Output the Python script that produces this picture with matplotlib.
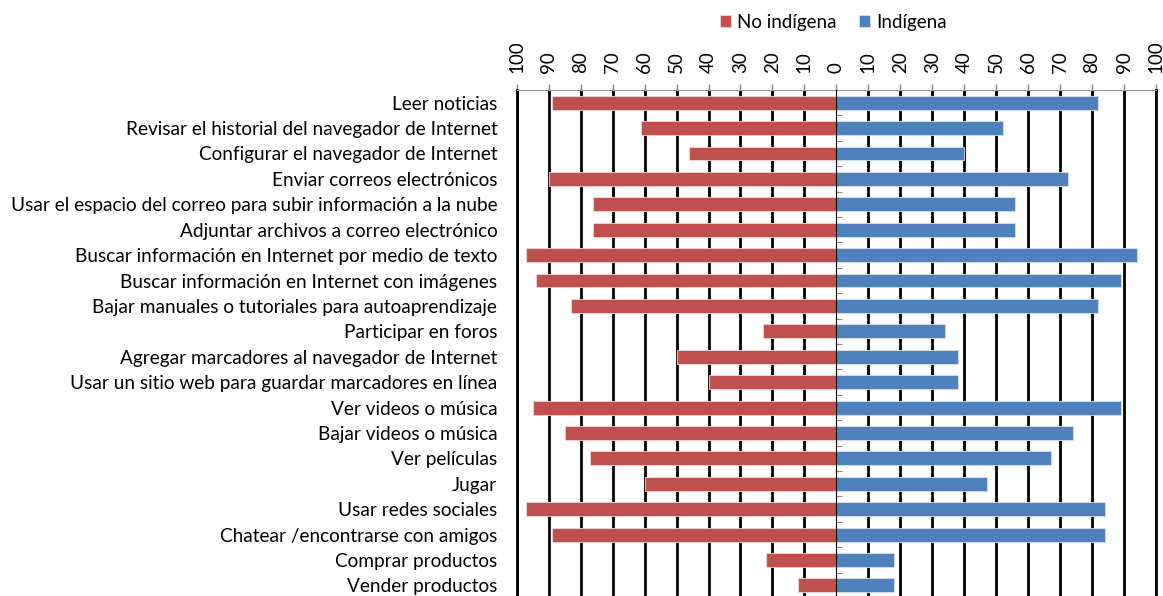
import matplotlib.pyplot as plt
import numpy as np

plt.rcParams['font.family'] = ['Lato', 'DejaVu Sans']

actividades = [
    'Leer noticias',
    'Revisar el historial del navegador de Internet',
    'Configurar el navegador de Internet',
    'Enviar correos electrónicos',
    'Usar el espacio del correo para subir información a la nube',
    'Adjuntar archivos a correo electrónico',
    'Buscar información en Internet por medio de texto',
    'Buscar información en Internet con imágenes',
    'Bajar manuales o tutoriales para autoaprendizaje',
    'Participar en foros',
    'Agregar marcadores al navegador de Internet',
    'Usar un sitio web para guardar marcadores en línea',
    'Ver videos o música',
    'Bajar videos o música',
    'Ver películas',
    'Jugar',
    'Usar redes sociales',
    'Chatear /encontrarse con amigos',
    'Comprar productos',
    'Vender productos',
]
no_indigena = [89, 61, 46, 90, 76, 76, 97, 94, 83, 23, 50, 40, 95, 85, 77, 60, 97, 89, 22, 12]
indigena = [82, 52, 40, 72.5, 56, 56, 94, 89, 82, 34, 38, 38, 89, 74, 67, 47, 84, 84, 18, 18]
ticks = list(range(-100, 101, 10))

rojo = '#C0504D'
azul = '#4F81BD'

fig = plt.figure(figsize=(11.63, 5.96), dpi=100)
ax = fig.add_axes([0.4443, -0.0034, 0.5497, 0.8524])

y = np.arange(len(actividades))
ax.barh(y, -np.array(no_indigena), height=0.55, color=rojo, edgecolor='#F2D7D6', linewidth=0.6,
        label='No indígena', zorder=3)
ax.barh(y, indigena, height=0.55, color=azul, edgecolor='#D5E0EE', linewidth=0.6,
        label='Indígena', zorder=3)

ax.set_xlim(-100, 100)
ax.set_ylim(len(actividades) - 0.5, -0.5)
ax.set_xticks(ticks)
ax.set_xticklabels([str(abs(t)) for t in ticks])
ax.xaxis.tick_top()
ax.tick_params(axis='x', which='major', labelsize=13.5, rotation=90, length=4, width=1,
               color='#888888', pad=8)
ax.set_yticks(y)
ax.set_yticklabels(actividades, fontsize=13.7)
ax.tick_params(axis='y', length=0, pad=14)

ax.grid(axis='x', color='black', linewidth=2.0, zorder=1)
ax.xaxis.get_major_ticks()[10].gridline.set_visible(False)
ax.set_axisbelow(True)

ax.spines['top'].set_color('#999999')
ax.spines['bottom'].set_visible(False)
for s in ['left', 'right']:
    ax.spines[s].set_color('black')
    ax.spines[s].set_linewidth(2.0)

# eje de categorias en el centro
centro = ax.secondary_yaxis(0.5)
centro.set_yticks(y[:-1] + 0.5)
centro.set_yticklabels([])
centro.tick_params(axis='y', length=4, color='#888888', direction='out')
centro.spines['left'].set_color('#999999')
centro.set_zorder(4)

fig.legend(loc='center', bbox_to_anchor=(0.7165, 0.963), ncol=2, frameon=False, fontsize=13.5,
           handlelength=0.6, handleheight=0.6, handletextpad=0.3, columnspacing=1.2)

fig.savefig('out.png', dpi=100)
